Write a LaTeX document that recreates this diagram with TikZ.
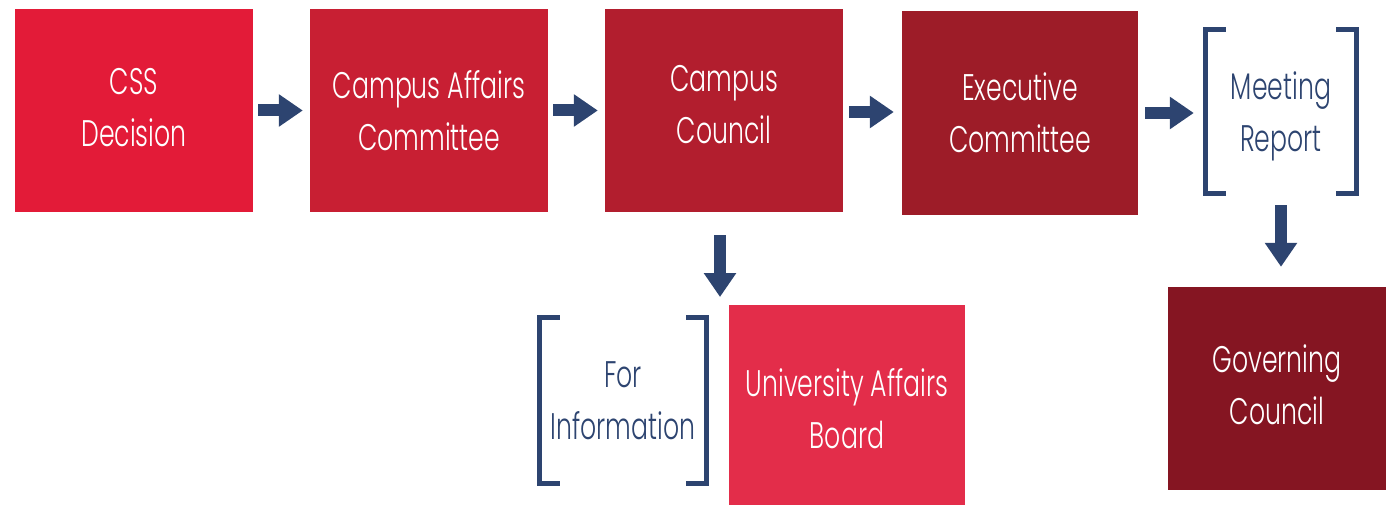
\documentclass[tikz,border=0pt]{standalone}
\usepackage{fontspec}
\setmainfont{Poppins}[UprightFont=*-Light, FakeStretch=0.68]
\usetikzlibrary{arrows.meta}
\definecolor{cssred}{HTML}{E31B38}
\definecolor{cacred}{HTML}{C81F33}
\definecolor{ccred}{HTML}{B21E2E}
\definecolor{ecred}{HTML}{9D1C28}
\definecolor{gcred}{HTML}{851522}
\definecolor{uabred}{HTML}{E32D4A}
\definecolor{navy}{HTML}{2D4470}
\tikzset{
  box/.style={fill=#1, draw=none, inner sep=0pt},
  frame/.style={draw=none, inner sep=0pt},
  lbl/.style={text=white, align=center, inner sep=0pt, text depth=0pt,
    font=\fontsize{37}{52}\selectfont},
  nlbl/.style={lbl, text=navy},
  bracketline/.style={draw=navy, line width=5pt},
  arr/.style={draw=navy, line width=12pt, -{Triangle[length=24pt,width=31pt]}}
}
\begin{document}
\begin{tikzpicture}[x=1pt,y=-1pt]
\useasboundingbox (0,0) rectangle (1386,505);
\node[box=cssred, minimum width=238pt, minimum height=203pt,
  label={[lbl, name=cssT, yshift=3pt]center:{CSS\\Decision}}] (css) at (134,110.5) {};
\node[box=cacred, minimum width=238pt, minimum height=203pt,
  label={[lbl, name=cacT]center:{Campus Affairs\\Committee}}] (cac) at (429,110.5) {};
\node[box=ccred, minimum width=238pt, minimum height=203pt,
  label={[lbl, name=ccT, yshift=6pt]center:{Campus\\Council}}] (cc) at (724,110.5) {};
\node[box=ecred, minimum width=236pt, minimum height=204pt,
  label={[lbl, name=ecT]center:{Executive\\Committee}}] (ec) at (1020,113) {};
\node[frame, minimum width=150pt, minimum height=163pt,
  label={[nlbl, name=mrT]center:{Meeting\\Report}}] (mr) at (1281,111.5) {};
\node[box=gcred, minimum width=218pt, minimum height=203pt,
  label={[lbl, name=gcT, yshift=4pt]center:{Governing\\Council}}] (gc) at (1277,388.5) {};
\node[box=uabred, minimum width=236pt, minimum height=200pt,
  label={[lbl, name=uabT, yshift=-3.5pt]center:{University Affairs\\Board}}] (uab) at (847,405) {};
\node[frame, minimum width=166pt, minimum height=165pt,
  label={[nlbl, name=fiT]center:{For\\Information}}] (fi) at (623,400.5) {};
\coordinate (fitip) at (720,297);
% brackets
\foreach \b in {mr,fi}{
  \draw[bracketline] ([xshift=20pt]\b.north west) -- (\b.north west) -- (\b.south west) -- ([xshift=20pt]\b.south west);
  \draw[bracketline] ([xshift=-20pt]\b.north east) -- (\b.north east) -- (\b.south east) -- ([xshift=-20pt]\b.south east);
}
% arrows
\draw[arr, shorten <=5pt, shorten >=7pt] (css.east) -- (cac.west);
\draw[arr, shorten <=5pt, shorten >=7pt] (cac.east) -- (cc.west);
\draw[arr, shorten <=6pt, shorten >=8pt] ([yshift=-1.5pt]cc.east) -- ([yshift=-1.5pt]cc.east -| ec.west);
\draw[arr, shorten <=7pt, shorten >=12pt] (ec.east) -- (ec.east -| mr.west);
\draw[arr, shorten <=23pt] (cc.south -| fitip) -- (fitip);
\draw[arr, shorten <=12pt, shorten >=20pt] (mr.south) -- (mr.south |- gc.north);
\end{tikzpicture}
\end{document}
